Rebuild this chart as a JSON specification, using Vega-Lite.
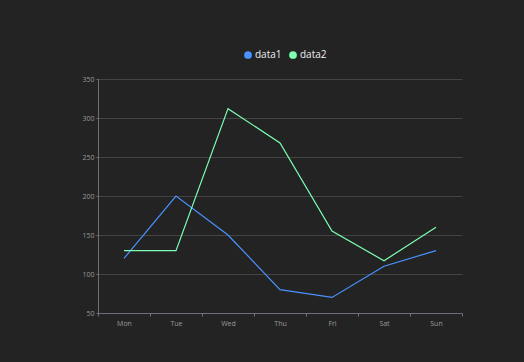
{
  "$schema": "https://vega.github.io/schema/vega-lite/v6.json",
  "width": 364,
  "height": 234,
  "autosize": {"type": "none"},
  "padding": {"left": 98, "top": 79, "right": 62, "bottom": 49},
  "background": "#232323",
  "config": {
    "view": {"stroke": null},
    "font": "Open Sans"
  },
  "data": {
    "values": [
      {"day": "Mon", "series": "data1", "value": 120},
      {"day": "Tue", "series": "data1", "value": 200},
      {"day": "Wed", "series": "data1", "value": 150},
      {"day": "Thu", "series": "data1", "value": 80},
      {"day": "Fri", "series": "data1", "value": 70},
      {"day": "Sat", "series": "data1", "value": 110},
      {"day": "Sun", "series": "data1", "value": 130},
      {"day": "Mon", "series": "data2", "value": 130},
      {"day": "Tue", "series": "data2", "value": 130},
      {"day": "Wed", "series": "data2", "value": 312},
      {"day": "Thu", "series": "data2", "value": 268},
      {"day": "Fri", "series": "data2", "value": 155},
      {"day": "Sat", "series": "data2", "value": 117},
      {"day": "Sun", "series": "data2", "value": 160}
    ]
  },
  "mark": {"type": "line", "strokeWidth": 1.2},
  "encoding": {
    "x": {
      "field": "day",
      "type": "ordinal",
      "sort": ["Mon", "Tue", "Wed", "Thu", "Fri", "Sat", "Sun"],
      "scale": {"type": "band", "paddingInner": 0, "paddingOuter": 0},
      "axis": {
        "title": null,
        "labelAngle": 0,
        "labelFontSize": 7,
        "labelColor": "#9a9a9a",
        "labelPadding": 3,
        "domainColor": "#6E7079",
        "tickColor": "#6E7079",
        "tickSize": 3,
        "tickBand": "extent",
        "grid": false
      }
    },
    "y": {
      "field": "value",
      "type": "quantitative",
      "scale": {"domain": [50, 350], "nice": false, "zero": false},
      "axis": {
        "title": null,
        "values": [50, 100, 150, 200, 250, 300, 350],
        "labelFontSize": 7,
        "labelColor": "#9a9a9a",
        "labelPadding": 2,
        "domain": true,
        "domainColor": "#6E7079",
        "tickColor": "#6E7079",
        "tickSize": 2,
        "grid": true,
        "gridColor": "#444444",
        "gridWidth": 1
      }
    },
    "color": {
      "field": "series",
      "type": "nominal",
      "scale": {"domain": ["data1", "data2"], "range": ["#4992ff", "#7cffb2"]},
      "legend": {
        "title": null,
        "orient": "none",
        "direction": "horizontal",
        "legendX": 145,
        "legendY": -29,
        "symbolType": "circle",
        "symbolSize": 60,
        "symbolStrokeWidth": 0,
        "symbolOpacity": 1,
        "labelColor": "#eeeeee",
        "labelFontSize": 10,
        "labelOffset": 2,
        "columnPadding": 6,
        "encode": {
          "symbols": {
            "update": {
              "fill": {"scale": "color", "field": "value"},
              "stroke": {"value": "transparent"}
            }
          }
        }
      }
    }
  }
}
